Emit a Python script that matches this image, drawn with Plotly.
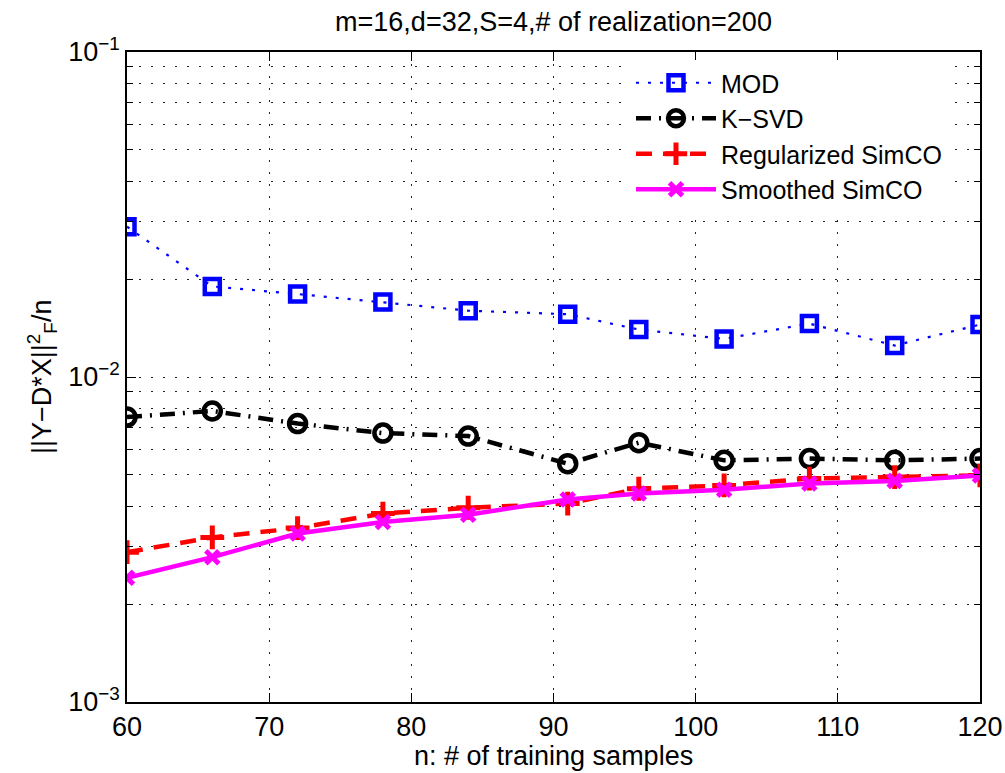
import plotly.graph_objects as go

n_samples = [60, 66, 72, 78, 84, 91, 96, 102, 108, 114, 120]
mod_err = [0.0290, 0.0190, 0.0180, 0.0170, 0.0160, 0.0156, 0.0140, 0.0131, 0.0146, 0.0125, 0.0145]
ksvd_err = [0.00753, 0.00786, 0.00719, 0.00672, 0.00658, 0.00541, 0.00628, 0.00554, 0.00561, 0.00554, 0.00561]
reg_simco = [0.00289, 0.00321, 0.00343, 0.00380, 0.00396, 0.00408, 0.00453, 0.00464, 0.00487, 0.00492, 0.00498]
smooth_simco = [0.00241, 0.00279, 0.00330, 0.00358, 0.00377, 0.00420, 0.00438, 0.00450, 0.00470, 0.00479, 0.00498]

x_ticks = [60, 70, 80, 90, 100, 110, 120]
y_major = [1e-3, 1e-2, 1e-1]
y_major_text = ["10<sup>\u22123</sup>", "10<sup>\u22122</sup>", "10<sup>\u22121</sup>"]
y_minor = [k * 1e-3 for k in range(2, 10)] + [k * 1e-2 for k in range(2, 10)]

FONT = "Liberation Sans, Arial, Helvetica, sans-serif"
FS = 27
FS_LEG = 25
GRID_DASH = "2px,10px"
GRID_COLOR = "#222222"

W, H = 1005, 773
plot_left, plot_right, plot_top, plot_bottom = 127, 980, 52, 702
L, R, T, B = plot_left, W - plot_right, plot_top, H - plot_bottom
pw, ph = W - L - R, H - T - B

def py(y_px):
    return 1 - (y_px - T) / ph

def px(x_px):
    return (x_px - L) / pw

fig = go.Figure()
fig.add_trace(go.Scatter(
    x=n_samples, y=mod_err, name="MOD", mode="lines+markers",
    line=dict(color="#0000ff", width=2.2, dash="3px,9px"),
    marker=dict(symbol="square-open", size=15, color="#0000ff", line=dict(width=4.5, color="#0000ff")),
))
fig.add_trace(go.Scatter(
    x=n_samples, y=ksvd_err, name="K\u2212SVD", mode="lines+markers",
    line=dict(color="#000000", width=4.5, dash="15px,8px,2px,8px"),
    marker=dict(symbol="circle-open", size=17, color="#000000", line=dict(width=4.5, color="#000000")),
))
fig.add_trace(go.Scatter(
    x=n_samples, y=reg_simco, name="Regularized SimCO", mode="lines+markers",
    line=dict(color="#ff0000", width=4.5, dash="16px,11px"),
    marker=dict(symbol="cross-thin-open", size=17, color="#ff0000", line=dict(width=5, color="#ff0000")),
))
fig.add_trace(go.Scatter(
    x=n_samples, y=smooth_simco, name="Smoothed SimCO", mode="lines+markers",
    line=dict(color="#ff00ff", width=4.5),
    marker=dict(symbol="x-thin-open", size=13, color="#ff00ff", line=dict(width=5, color="#ff00ff")),
))

fig.update_layout(
    width=W, height=H,
    margin=dict(l=L, r=R, t=T, b=B, autoexpand=False),
    paper_bgcolor="white", plot_bgcolor="white",
    font=dict(family=FONT, size=FS, color="black"),
    showlegend=True,
    legend=dict(
        x=px(631), y=py(60), xanchor="left", yanchor="top",
        bgcolor="white", borderwidth=0, itemwidth=80,
        font=dict(family=FONT, size=FS_LEG, color="black"),
        tracegroupgap=0,
    ),
    title=dict(
        text="m=16,d=32,S=4,# of realization=200",
        x=0.5 * (plot_left + plot_right) / W, xref="container", xanchor="center",
        y=1 - 22 / H, yref="container", yanchor="middle",
        font=dict(family=FONT, size=FS, color="black"),
    ),
)

fig.update_xaxes(
    range=[60, 120], tickmode="array", tickvals=x_ticks,
    ticktext=[str(v) for v in x_ticks],
    showline=True, linecolor="black", linewidth=1.5, mirror="ticks",
    ticks="inside", ticklen=9, tickwidth=1, tickcolor="black",
    showgrid=True, gridcolor=GRID_COLOR, griddash=GRID_DASH, gridwidth=1,
    zeroline=False, tickfont=dict(family=FONT, size=FS, color="black"),
)
fig.update_yaxes(
    type="log", range=[-3, -1], tickmode="array", tickvals=y_major, ticktext=y_major_text,
    showline=True, linecolor="black", linewidth=1.5, mirror="ticks",
    ticks="inside", ticklen=9, tickwidth=1, tickcolor="black",
    showgrid=True, gridcolor=GRID_COLOR, griddash=GRID_DASH, gridwidth=1,
    zeroline=False, tickfont=dict(family=FONT, size=FS, color="black"),
    minor=dict(tickmode="array", tickvals=y_minor, ticks="inside", ticklen=6,
               tickcolor="black", showgrid=True, gridcolor=GRID_COLOR,
               griddash=GRID_DASH, gridwidth=1),
)

fig.add_annotation(
    text="n: # of training samples", xref="paper", yref="paper",
    x=0.5, y=py(756), xanchor="center", yanchor="middle",
    showarrow=False, font=dict(family=FONT, size=FS, color="black"),
)
fig.add_annotation(
    text="||Y\u2212D*X||<sup>2</sup><sub>F</sub>/n", xref="paper", yref="paper",
    x=px(42), y=0.5, xanchor="center", yanchor="middle", textangle=-90,
    showarrow=False, font=dict(family=FONT, size=FS, color="black"),
)

fig.write_html(
    "out.html",
    config={"displayModeBar": False},
    post_script="document.body.style.margin='0';document.body.style.overflow='hidden';",
)
